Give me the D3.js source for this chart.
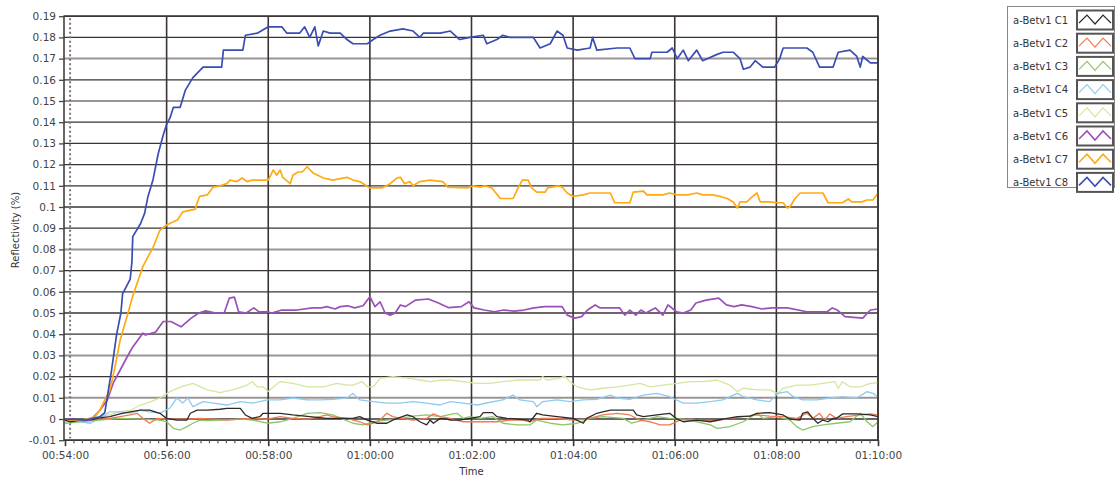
<!DOCTYPE html>
<html><head><meta charset="utf-8">
<script src="https://cdn.jsdelivr.net/npm/d3@7"></script>
<style>
body{margin:0;background:#fff;}
svg{display:block;font-family:"DejaVu Sans",Verdana,sans-serif;}
</style></head>
<body><svg id="chart" width="1115" height="478"></svg>
<script>
// ---- DATA (time in seconds after 00:54:00, reflectivity in %) ----
const seriesNames = ["a-Betv1 C1","a-Betv1 C2","a-Betv1 C3","a-Betv1 C4","a-Betv1 C5","a-Betv1 C6","a-Betv1 C7","a-Betv1 C8"];
const seriesColors = ["#2e2a2a","#f07a52","#8cc766","#8dcbef","#d5e6a0","#9a50b8","#ffaa12","#3a4db2"];

const c1 = [[0,-0.0005],[6,-0.0013],[18,-0.0008],[30,-0.0005],[41,0.0005],[53,0.0011],[65,0.0024],[77,0.0034],[89,0.0042],[100,0.0042],[112,0.0027],[120,0.0003],[132,-0.0005],[144,-0.0005],[148,0.0027],[156,0.0042],[168,0.0042],[183,0.0046],[191,0.005],[207,0.005],[213,0.0019],[221,0.0003],[230,0.0011],[234,0.0027],[242,0.0027],[254,0.0027],[269,0.0019],[289,0.0011],[309,0.0003],[328,0.0003],[340,0.0003],[348,0.0011],[357,-0.0005],[368,-0.002],[380,-0.002],[387,-0.0005],[404,0.0019],[411,0.0011],[419,-0.0013],[427,-0.0028],[431,-0.0005],[435,-0.002],[443,0.0003],[451,-0.0001],[455,-0.0005],[466,-0.0005],[478,0.0003],[490,0.0011],[494,0.003],[505,0.003],[510,0.0011],[522,0.0003],[534,-0.0001],[546,-0.0005],[549,-0.0013],[557,0.0027],[564,0.0019],[581,0.0011],[600,0.0003],[612,-0.002],[616,0.0003],[628,0.0027],[635,0.0034],[644,0.0042],[655,0.0042],[671,0.0042],[675,0.0019],[683,0.0011],[699,0.0019],[714,0.0027],[723,-0.0001],[730,-0.0013],[746,-0.0005],[762,-0.0013],[777,-0.0001],[794,0.0011],[809,0.0014],[817,0.0027],[832,0.003],[848,0.0019],[856,-0.0001],[868,-0.0005],[871,0.0027],[877,0.0034],[883,0.0003],[889,-0.002],[895,-0.0005],[901,-0.0013],[907,0.0003],[911,0.0003],[918,0.0024],[935,0.0024],[951,0.0019],[960,0.0011]];
const c2 = [[0,-0.0008],[18,-0.0005],[41,-0.0001],[53,0.0003],[65,0.0011],[77,0.0019],[85,0.0027],[92,0.0003],[100,-0.002],[109,0.0003],[124,-0.0001],[144,-0.0001],[159,0.0003],[175,-0.0001],[191,-0.0005],[207,-0.0001],[222,0.0003],[239,-0.0001],[254,0.0011],[269,0.0003],[286,-0.0001],[301,0.0011],[309,0.0019],[316,0.0011],[333,0.0003],[348,-0.0013],[357,-0.0028],[364,-0.002],[372,-0.0005],[380,0.0027],[387,0.0011],[396,0.0003],[411,-0.0005],[427,0.0003],[435,0.0024],[443,0.0011],[455,0.0003],[470,-0.0013],[490,-0.0013],[510,-0.0013],[525,-0.0005],[541,-0.0005],[549,-0.0013],[561,0.0003],[581,0.0003],[600,-0.0005],[616,-0.0001],[635,0.0019],[652,0.0027],[667,0.0019],[679,-0.0005],[691,-0.0013],[703,-0.0028],[714,-0.0028],[726,-0.0005],[738,-0.0001],[753,-0.0005],[770,-0.0008],[785,0.0003],[801,0.0011],[817,0.0019],[832,0.0014],[848,0.0011],[864,0.0003],[876,0.0027],[883,0.0003],[891,0.0027],[897,-0.0005],[903,0.0024],[911,0.0003],[923,0.0011],[939,0.0019],[951,0.0024],[960,0.0019]];
const c3 = [[0,-0.002],[18,-0.0013],[41,-0.0005],[65,0.0003],[89,-0.0001],[112,-0.0005],[120,-0.0013],[128,-0.0044],[136,-0.0052],[144,-0.0036],[151,-0.002],[159,-0.0005],[168,-0.0008],[183,-0.0005],[207,-0.0001],[222,-0.0005],[239,-0.002],[254,-0.0013],[269,0.0003],[286,0.0027],[301,0.003],[316,0.0019],[328,-0.0001],[340,-0.002],[352,-0.0028],[364,-0.0013],[380,-0.0005],[396,0.0003],[411,0.0014],[427,0.0019],[443,0.0011],[458,0.0024],[463,0.0027],[470,0.0003],[478,0.0011],[490,0.0003],[505,0.0011],[517,-0.002],[534,-0.0028],[549,-0.0028],[557,-0.0005],[573,-0.002],[588,-0.0028],[605,-0.002],[620,0.0003],[635,0.0011],[659,0.0003],[669,-0.002],[683,-0.0005],[699,0.0011],[714,0.0003],[730,-0.0001],[746,-0.0013],[762,-0.0028],[770,-0.0044],[785,-0.0036],[801,-0.0013],[817,0.0027],[824,0.0003],[841,0.0011],[856,-0.0005],[864,-0.0036],[871,-0.0052],[883,-0.0036],[895,-0.0028],[911,-0.002],[927,-0.0013],[939,0.0027],[947,-0.0013],[954,-0.0036],[960,-0.0013]];
const c4 = [[0,-0.0005],[18,-0.0013],[30,-0.002],[41,0.0004],[53,0.0034],[65,0.0034],[77,0.0028],[89,0.0042],[100,0.0034],[112,0.0028],[124,0.0052],[132,0.0099],[139,0.0075],[145,0.0099],[151,0.0058],[163,0.0082],[175,0.0075],[191,0.0066],[207,0.0082],[222,0.0075],[239,0.009],[254,0.009],[269,0.0099],[286,0.009],[301,0.009],[316,0.0093],[333,0.0099],[340,0.0121],[348,0.009],[364,0.0082],[380,0.0075],[396,0.0075],[411,0.0082],[427,0.0075],[443,0.0066],[455,0.0082],[470,0.0075],[487,0.0066],[502,0.0079],[517,0.009],[529,0.0113],[537,0.009],[553,0.0082],[557,0.0058],[564,0.0082],[581,0.009],[596,0.0082],[612,0.009],[628,0.0093],[644,0.0113],[652,0.0099],[667,0.0093],[683,0.0113],[699,0.0121],[714,0.0105],[730,0.0075],[746,0.0075],[762,0.0082],[777,0.009],[794,0.0121],[801,0.0105],[817,0.009],[832,0.0082],[842,0.0121],[853,0.0129],[860,0.0105],[871,0.009],[888,0.009],[903,0.0099],[918,0.0105],[935,0.0099],[947,0.0129],[954,0.0121],[960,0.0105]];
const c5 = [[0,-0.0013],[18,-0.0005],[41,0.001],[53,0.002],[65,0.0035],[77,0.004],[89,0.0066],[100,0.008],[112,0.0099],[124,0.0129],[136,0.015],[151,0.0168],[168,0.0137],[183,0.0124],[198,0.0137],[215,0.016],[221,0.0176],[227,0.0152],[234,0.0152],[240,0.0129],[246,0.0152],[254,0.0176],[269,0.0168],[286,0.0152],[305,0.0152],[321,0.0168],[333,0.016],[340,0.016],[351,0.0176],[357,0.0152],[364,0.0152],[372,0.0192],[387,0.02],[407,0.0192],[419,0.0184],[431,0.0176],[446,0.0184],[455,0.0184],[470,0.0176],[487,0.0168],[502,0.0168],[517,0.0176],[534,0.0184],[549,0.0184],[561,0.0184],[564,0.02],[569,0.0184],[584,0.0192],[590,0.0203],[596,0.0176],[605,0.0152],[620,0.0137],[635,0.0145],[652,0.0152],[667,0.016],[679,0.0168],[691,0.0152],[706,0.016],[723,0.0168],[738,0.0176],[753,0.0176],[770,0.0184],[785,0.016],[794,0.0129],[801,0.0145],[817,0.0137],[832,0.0137],[842,0.012],[848,0.0145],[864,0.016],[880,0.016],[895,0.0168],[909,0.0176],[913,0.0145],[918,0.0176],[927,0.0152],[939,0.0152],[951,0.0168],[960,0.0171]];
const c6 = [[0,0],[30,-0.0005],[41,0.004],[50,0.009],[57,0.017],[65,0.023],[73,0.029],[80,0.034],[92,0.0405],[95,0.0396],[107,0.041],[116,0.046],[125,0.046],[137,0.0435],[149,0.0476],[158,0.05],[166,0.051],[178,0.05],[188,0.05],[194,0.057],[200,0.0575],[205,0.0506],[214,0.05],[223,0.0524],[229,0.0505],[239,0.0505],[244,0.05],[256,0.0514],[274,0.0514],[292,0.0524],[303,0.0524],[309,0.053],[319,0.0519],[325,0.053],[334,0.0534],[342,0.0524],[352,0.0534],[360,0.0577],[366,0.053],[372,0.0553],[378,0.05],[384,0.049],[390,0.05],[396,0.0538],[402,0.053],[414,0.0561],[429,0.0566],[441,0.0547],[453,0.0525],[468,0.053],[477,0.0553],[483,0.0524],[495,0.0514],[507,0.0506],[518,0.0514],[530,0.0509],[542,0.0514],[554,0.0524],[566,0.053],[587,0.053],[593,0.049],[602,0.0476],[610,0.0483],[617,0.0514],[626,0.0538],[632,0.0524],[655,0.0524],[661,0.049],[667,0.0514],[674,0.049],[680,0.0514],[686,0.05],[697,0.0524],[706,0.049],[712,0.0538],[722,0.0506],[730,0.05],[739,0.0514],[745,0.0547],[757,0.0561],[772,0.057],[781,0.0538],[790,0.053],[799,0.0538],[811,0.053],[823,0.0519],[835,0.0524],[853,0.0524],[876,0.0506],[900,0.0506],[906,0.0524],[912,0.0514],[921,0.0483],[942,0.0476],[951,0.0514],[960,0.0519]];
const c7 = [[0,0],[18,-0.001],[35,0.001],[41,0.004],[47,0.009],[53,0.0137],[59,0.0245],[65,0.037],[73,0.048],[80,0.058],[92,0.072],[104,0.081],[112,0.089],[120,0.0915],[128,0.093],[133,0.094],[139,0.0977],[154,0.099],[156,0.102],[159,0.105],[168,0.1057],[175,0.1094],[183,0.11],[191,0.111],[195,0.1127],[203,0.112],[209,0.1137],[215,0.112],[221,0.1127],[240,0.1127],[246,0.1175],[250,0.115],[254,0.1175],[257,0.114],[266,0.111],[269,0.115],[275,0.1165],[280,0.1165],[286,0.119],[293,0.116],[305,0.1137],[316,0.1127],[333,0.114],[340,0.1127],[348,0.112],[360,0.109],[374,0.109],[384,0.111],[392,0.1137],[396,0.114],[401,0.111],[407,0.112],[411,0.11],[419,0.112],[431,0.1127],[446,0.112],[452,0.1094],[475,0.109],[482,0.11],[490,0.1094],[496,0.11],[504,0.109],[514,0.104],[529,0.104],[535,0.109],[540,0.1127],[547,0.1127],[551,0.109],[557,0.107],[567,0.107],[570,0.109],[582,0.11],[587,0.1094],[593,0.1066],[600,0.105],[612,0.1057],[620,0.1066],[644,0.1066],[649,0.102],[667,0.102],[671,0.107],[683,0.1075],[687,0.1057],[706,0.1057],[714,0.1066],[723,0.1057],[735,0.1057],[746,0.1066],[753,0.1057],[765,0.1057],[773,0.105],[782,0.104],[789,0.1024],[794,0.0995],[797,0.1024],[805,0.1024],[812,0.105],[817,0.1066],[821,0.1024],[832,0.1024],[841,0.102],[848,0.102],[853,0.0995],[856,0.1],[862,0.104],[868,0.1066],[876,0.1066],[895,0.1066],[901,0.102],[918,0.102],[925,0.1038],[929,0.1024],[941,0.1024],[947,0.1033],[954,0.1033],[960,0.1066]];
const c8 = [[0,0],[24,-0.0005],[41,0.001],[47,0.003],[55,0.023],[61,0.04],[66,0.05],[68,0.059],[77,0.066],[79,0.074],[80,0.086],[89,0.092],[94,0.097],[98,0.105],[104,0.113],[110,0.125],[116,0.134],[120,0.139],[124,0.142],[128,0.147],[136,0.147],[142,0.155],[151,0.161],[163,0.166],[185,0.166],[187,0.174],[210,0.174],[213,0.181],[227,0.182],[240,0.185],[256,0.185],[262,0.182],[277,0.182],[283,0.185],[289,0.18],[295,0.185],[299,0.176],[305,0.183],[313,0.182],[325,0.182],[333,0.179],[340,0.177],[357,0.177],[364,0.179],[372,0.181],[384,0.183],[399,0.184],[411,0.183],[419,0.18],[423,0.182],[443,0.182],[455,0.183],[466,0.179],[478,0.18],[494,0.181],[498,0.177],[510,0.179],[517,0.181],[525,0.18],[553,0.18],[561,0.175],[573,0.177],[581,0.183],[588,0.181],[593,0.175],[605,0.174],[620,0.175],[623,0.18],[628,0.174],[652,0.175],[667,0.175],[673,0.17],[691,0.17],[693,0.173],[711,0.173],[717,0.175],[723,0.17],[730,0.174],[736,0.169],[746,0.174],[753,0.169],[770,0.172],[777,0.173],[789,0.173],[797,0.17],[801,0.165],[809,0.166],[815,0.169],[824,0.166],[838,0.166],[844,0.17],[848,0.175],[876,0.175],[883,0.173],[891,0.166],[907,0.166],[913,0.173],[927,0.174],[935,0.171],[939,0.166],[942,0.171],[951,0.168],[960,0.168]];
const seriesData = [c1,c2,c3,c4,c5,c6,c7,c8];

const xTickSeconds = [0,120,240,360,480,600,720,840,960];
const xTickLabels = ["00:54:00","00:56:00","00:58:00","01:00:00","01:02:00","01:04:00","01:06:00","01:08:00","01:10:00"];
const yTickValues = [-0.01,0,0.01,0.02,0.03,0.04,0.05,0.06,0.07,0.08,0.09,0.1,0.11,0.12,0.13,0.14,0.15,0.16,0.17,0.18,0.19];
const yTickLabels = ["-0.01","0","0.01","0.02","0.03","0.04","0.05","0.06","0.07","0.08","0.09","0.1","0.11","0.12","0.13","0.14","0.15","0.16","0.17","0.18","0.19"];
const lightGridValues = [0.01,0.03,0.08,0.15,0.17];
const cursorSeconds = 6;

// ---- DRAW ----
const svg = d3.select("#chart");
const x = d3.scaleLinear().domain([0,960]).range([65,878]);
const y = d3.scaleLinear().domain([-0.01,0.19]).range([440.2,16.2]);
const [x0,x1] = x.range(); const [yb,yt] = y.range();

svg.append("defs").append("clipPath").attr("id","plotclip")
  .append("rect").attr("x",x0-1).attr("y",yt).attr("width",x1-x0+2).attr("height",yb-yt);

// horizontal grid
const gGrid = svg.append("g");
gGrid.selectAll("line.h").data(yTickValues).join("line")
  .attr("x1",x0-1).attr("x2",x1)
  .attr("y1",d=>y(d)).attr("y2",d=>y(d))
  .attr("stroke",d=>lightGridValues.some(v=>Math.abs(v-d)<1e-9)?"#9a9494":"#3a3434")
  .attr("stroke-width",d=>lightGridValues.some(v=>Math.abs(v-d)<1e-9)?2:1.3);
// vertical grid
gGrid.selectAll("line.v").data(xTickSeconds.slice(1)).join("line")
  .attr("x1",d=>x(d)).attr("x2",d=>x(d)).attr("y1",yt).attr("y2",yb)
  .attr("stroke","#3a3434").attr("stroke-width",1.6);

// cursor dotted line
svg.append("line").attr("x1",x(cursorSeconds)).attr("x2",x(cursorSeconds))
  .attr("y1",yt+2).attr("y2",yb-2)
  .attr("stroke","#7a7474").attr("stroke-width",2).attr("stroke-dasharray","2,2.5");

// series lines
const line = d3.line().x(d=>x(d[0])).y(d=>y(d[1]));
const drawOrder = [4,3,2,1,0,5,6,7];
const gLines = svg.append("g").attr("clip-path","url(#plotclip)");
drawOrder.forEach(i=>{
  gLines.append("path").datum(seriesData[i]).attr("d",line)
    .attr("fill","none").attr("stroke",seriesColors[i])
    .attr("stroke-width", i>=5?1.7:1.3).attr("stroke-linejoin","round");
});

// frame
svg.append("rect").attr("x",x0-1).attr("y",yt).attr("width",x1-x0+1).attr("height",yb-yt)
  .attr("fill","none").attr("stroke","#3a3434").attr("stroke-width",1.5);

// y axis
const yAxis = d3.axisLeft(y).tickValues(yTickValues)
  .tickFormat((d,i)=>yTickLabels[i]).tickSize(5).tickPadding(3);
const gy = svg.append("g").attr("transform",`translate(${x0-1},0)`).call(yAxis);
gy.select(".domain").remove();
gy.selectAll(".tick line").attr("stroke","#4a4444").attr("stroke-width",1.3);
gy.selectAll(".tick text").attr("font-size","10.5px").attr("fill","#444").attr("font-family","DejaVu Sans");

// x axis minor ticks
const minor = d3.range(0,961,10).filter(s=>s%120!==0);
const xMinor = d3.axisBottom(x).tickValues(minor).tickSize(3).tickFormat("");
const gxm = svg.append("g").attr("transform",`translate(0,${yb})`).call(xMinor);
gxm.select(".domain").remove();
gxm.selectAll(".tick line").attr("stroke","#555").attr("stroke-width",1.2);
const xAxis = d3.axisBottom(x).tickValues(xTickSeconds)
  .tickFormat((d,i)=>xTickLabels[i]).tickSize(6).tickPadding(5);
const gx = svg.append("g").attr("transform",`translate(0,${yb})`).call(xAxis);
gx.select(".domain").remove();
gx.selectAll(".tick line").attr("stroke","#3a3434").attr("stroke-width",1.6);
gx.selectAll(".tick text").attr("font-size","10.5px").attr("fill","#444").attr("font-family","DejaVu Sans");

// axis titles
svg.append("text").attr("x",(x0+x1)/2).attr("y",475).attr("text-anchor","middle")
  .attr("font-size","10px").attr("fill","#333").text("Time");
svg.append("text").attr("transform","translate(19,230) rotate(-90)").attr("text-anchor","middle")
  .attr("font-size","10px").attr("fill","#333").text("Reflectivity (%)");

// legend
const lg = svg.append("g");
lg.append("rect").attr("x",1007.5).attr("y",6.5).attr("width",107).attr("height",181)
  .attr("fill","#fff").attr("stroke","#8a8686").attr("stroke-width",1);
seriesNames.forEach((name,i)=>{
  const cy = 20 + i*23.2;
  lg.append("text").attr("x",1013).attr("y",cy+3.8).attr("font-size","10px")
    .attr("fill","#333").text(name);
  lg.append("rect").attr("x",1077).attr("y",cy-9.5).attr("width",36).attr("height",19)
    .attr("fill","#fff").attr("stroke","#555").attr("stroke-width",2);
  const pts = [[1079,cy+3],[1087,cy-5],[1095,cy+4],[1103,cy-5],[1111,cy+3]];
  lg.append("path").attr("d",d3.line()(pts)).attr("fill","none")
    .attr("stroke",seriesColors[i]).attr("stroke-width",i>=5?1.6:1.2);
});
</script></body></html>
